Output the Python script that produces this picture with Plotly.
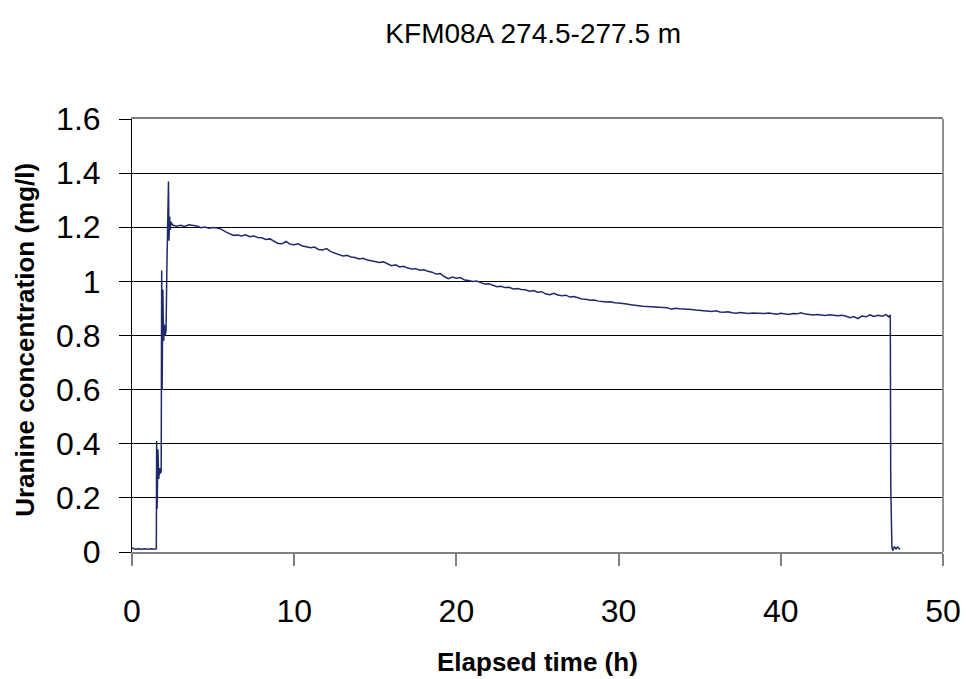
import plotly.graph_objects as go

# Early part (irregular sampling, start-up spikes)
t_early = [0.0, 0.2, 0.4, 0.6, 0.8, 1.0, 1.2, 1.4, 1.5, 1.52, 1.55, 1.6, 1.65, 1.7, 1.75, 1.8,
           1.83, 1.86, 1.9, 1.95, 2.0, 2.05, 2.1, 2.15, 2.2, 2.25, 2.28, 2.32, 2.36, 2.4]
c_early = [0.015, 0.01, 0.012, 0.01, 0.012, 0.01, 0.012, 0.01, 0.012, 0.41, 0.16, 0.38, 0.27, 0.31, 0.29, 0.30,
           1.04, 0.60, 0.97, 0.78, 0.84, 0.80, 0.82, 1.05, 1.32, 1.37, 1.15, 1.24, 1.19, 1.22]

# Main decline
t_main = [2.5, 2.75, 3.0, 3.25, 3.5, 3.75, 4.0, 4.25, 4.5, 4.75, 5.0, 5.25, 5.5, 5.75, 6.0, 6.25, 6.5, 6.75,
          7.0, 7.25, 7.5, 7.75, 8.0, 8.25, 8.5, 8.75, 9.0, 9.25, 9.5, 9.75, 10.0, 10.25, 10.5, 10.75,
          11.0, 11.25, 11.5, 11.75, 12.0, 12.25, 12.5, 12.75, 13.0, 13.25, 13.5, 13.75, 14.0, 14.25, 14.5, 14.75,
          15.0, 15.25, 15.5, 15.75, 16.0, 16.25, 16.5, 16.75, 17.0, 17.25, 17.5, 17.75, 18.0, 18.25, 18.5, 18.75,
          19.0, 19.25, 19.5, 19.75, 20.0, 20.25, 20.5, 20.75, 21.0, 21.25, 21.5, 21.75, 22.0, 22.25, 22.5, 22.75,
          23.0, 23.25, 23.5, 23.75, 24.0, 24.25, 24.5, 24.75, 25.0, 25.25, 25.5, 25.75, 26.0, 26.25, 26.5, 26.75,
          27.0, 27.25, 27.5, 27.75, 28.0, 28.25, 28.5, 28.75, 29.0, 29.25, 29.5, 29.75, 30.0, 30.25, 30.5, 30.75,
          31.0, 31.25, 31.5, 31.75, 32.0, 32.25, 32.5, 32.75, 33.0, 33.25, 33.5, 33.75, 34.0, 34.25, 34.5, 34.75,
          35.0, 35.25, 35.5, 35.75, 36.0, 36.25, 36.5, 36.75, 37.0, 37.25, 37.5, 37.75, 38.0, 38.25, 38.5, 38.75,
          39.0, 39.25, 39.5, 39.75, 40.0, 40.25, 40.5, 40.75, 41.0, 41.25, 41.5, 41.75, 42.0, 42.25, 42.5, 42.75,
          43.0, 43.25, 43.5, 43.75, 44.0, 44.25, 44.5, 44.75, 45.0, 45.25, 45.5, 45.75, 46.0, 46.25, 46.5, 46.65, 46.75]
c_main = [1.208, 1.204, 1.207, 1.203, 1.209, 1.206, 1.205, 1.198, 1.201, 1.196, 1.199, 1.197, 1.193, 1.184, 1.176, 1.170, 1.171, 1.168,
          1.172, 1.165, 1.168, 1.162, 1.161, 1.155, 1.157, 1.147, 1.140, 1.139, 1.148, 1.137, 1.135, 1.139, 1.131, 1.128,
          1.124, 1.127, 1.118, 1.116, 1.121, 1.110, 1.104, 1.100, 1.094, 1.096, 1.090, 1.088, 1.083, 1.085, 1.079, 1.076,
          1.073, 1.070, 1.072, 1.064, 1.058, 1.061, 1.053, 1.056, 1.049, 1.046, 1.047, 1.041, 1.043, 1.037, 1.034, 1.027,
          1.029, 1.018, 1.010, 1.016, 1.012, 1.014, 1.005, 1.003, 1.000, 1.001, 0.994, 0.990, 0.991, 0.984, 0.980, 0.982,
          0.977, 0.978, 0.972, 0.974, 0.970, 0.969, 0.964, 0.966, 0.960, 0.962, 0.954, 0.951, 0.956, 0.950, 0.947, 0.949,
          0.942, 0.944, 0.938, 0.935, 0.934, 0.930, 0.931, 0.927, 0.926, 0.924, 0.925, 0.921, 0.920, 0.919, 0.916, 0.914,
          0.913, 0.910, 0.908, 0.906, 0.906, 0.905, 0.904, 0.904, 0.903, 0.897, 0.901, 0.899, 0.898, 0.899, 0.896, 0.894,
          0.893, 0.892, 0.891, 0.889, 0.891, 0.887, 0.886, 0.888, 0.884, 0.882, 0.885, 0.883, 0.881, 0.883, 0.882, 0.880,
          0.881, 0.883, 0.881, 0.879, 0.882, 0.880, 0.878, 0.881, 0.880, 0.884, 0.879, 0.878, 0.876, 0.878, 0.877, 0.874,
          0.877, 0.876, 0.873, 0.875, 0.872, 0.866, 0.870, 0.862, 0.872, 0.869, 0.876, 0.870, 0.875, 0.871, 0.877, 0.869, 0.876]

# Wash-out at the end
t_end = [46.78, 46.82, 46.85, 46.9, 47.0, 47.1, 47.2, 47.35]
c_end = [0.24, 0.04, 0.02, 0.005, 0.02, 0.012, 0.018, 0.01]

x_ticks = [0, 10, 20, 30, 40, 50]
y_ticks = [0, 0.2, 0.4, 0.6, 0.8, 1, 1.2, 1.4, 1.6]
y_tick_text = ["0", "0.2", "0.4", "0.6", "0.8", "1", "1.2", "1.4", "1.6"]

t = t_early + t_main + t_end
c = c_early + c_main + c_end

fig = go.Figure()
fig.add_trace(go.Scatter(x=t, y=c, mode="lines", line=dict(color="#1F2A6B", width=1.5),
                         showlegend=False, hoverinfo="x+y"))

font_family = "Liberation Sans, Arial, sans-serif"

fig.update_layout(
    width=966, height=679,
    margin=dict(l=132, r=23, t=119, b=127, autoexpand=False),
    paper_bgcolor="white", plot_bgcolor="white",
    font=dict(family=font_family, color="black"),
    title=dict(text="KFM08A 274.5-277.5 m", x=0.552, xanchor="center", y=0.951, yanchor="middle",
               font=dict(size=28, family=font_family, color="black")),
    xaxis=dict(range=[0, 50], tickvals=x_ticks, ticktext=[str(v) for v in x_ticks],
               showgrid=False, zeroline=False, automargin=False,
               showline=True, linecolor="#808080", linewidth=2, mirror=True,
               ticks="outside", ticklen=12, tickcolor="#808080", tickwidth=2,
               ticklabelstandoff=18,
               tickfont=dict(size=32, family=font_family, color="black")),
    yaxis=dict(range=[0, 1.6], tickvals=y_ticks, ticktext=y_tick_text,
               showgrid=True, gridcolor="black", gridwidth=1, zeroline=False, automargin=False,
               showline=True, linecolor="black", linewidth=1,
               ticks="outside", ticklen=12, tickcolor="black", tickwidth=1,
               ticklabelstandoff=12,
               tickfont=dict(size=32, family=font_family, color="black")),
    annotations=[
        dict(text="<b>Elapsed time (h)</b>", xref="paper", yref="paper", x=0.5, y=-0.254,
             xanchor="center", yanchor="middle", showarrow=False,
             font=dict(size=26, family=font_family, color="black")),
        dict(text="<b>Uranine concentration (mg/l)</b>", xref="paper", yref="paper", x=-0.132, y=0.49,
             xanchor="center", yanchor="middle", textangle=-90, showarrow=False,
             font=dict(size=26, family=font_family, color="black")),
    ],
)

# right border of the plot area
fig.add_shape(type="line", xref="paper", yref="paper", x0=1, x1=1, y0=0, y1=1,
              line=dict(color="#909090", width=2))

fig.write_html("out.html")
